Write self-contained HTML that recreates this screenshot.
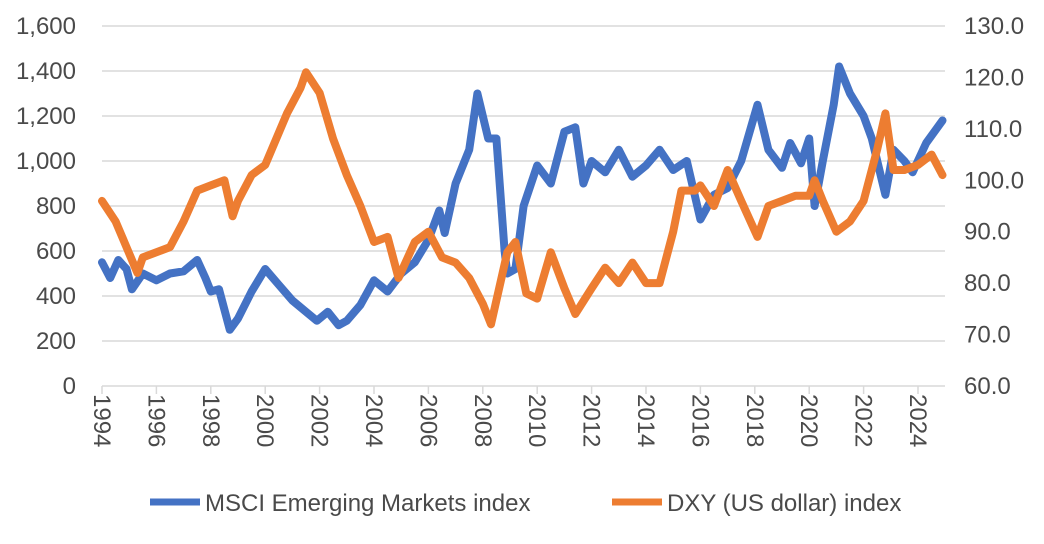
<!DOCTYPE html>
<html><head><meta charset="utf-8"><style>
body{margin:0;background:#fff;font-family:"Liberation Sans",sans-serif}
svg text{font-family:"Liberation Sans",sans-serif;fill:#4a4a4a}
</style></head><body>
<svg id="chart" width="1044" height="539" xmlns="http://www.w3.org/2000/svg"></svg>
<script>
const leftTicks=[0,200,400,600,800,1000,1200,1400,1600];
const rightTicks=[60,70,80,90,100,110,120,130];
const yearTicks=[1994,1996,1998,2000,2002,2004,2006,2008,2010,2012,2014,2016,2018,2020,2022,2024];
const msciX=[1994,1994.3,1994.6,1994.9,1995.1,1995.5,1996,1996.5,1997,1997.5,1997.8,1998,1998.3,1998.7,1999,1999.5,2000,2000.5,2001,2001.5,2001.9,2002.3,2002.7,2003,2003.5,2004,2004.5,2005,2005.5,2006,2006.4,2006.6,2007,2007.5,2007.8,2008.2,2008.5,2008.8,2008.9,2009.2,2009.5,2010,2010.5,2011,2011.4,2011.7,2012,2012.5,2013,2013.5,2014,2014.5,2015,2015.5,2016,2016.5,2017,2017.5,2018.1,2018.5,2019,2019.3,2019.7,2020,2020.2,2020.5,2020.9,2021.1,2021.5,2022,2022.3,2022.8,2023.1,2023.5,2023.8,2024.3,2024.9];
const msciY=[550,480,560,520,430,500,470,500,510,560,480,420,430,250,300,420,520,450,380,330,290,330,270,290,360,470,420,500,550,650,780,680,900,1050,1300,1100,1100,600,500,520,800,980,900,1130,1150,900,1000,950,1050,930,980,1050,960,1000,740,850,880,1000,1250,1050,970,1080,990,1100,800,1000,1250,1420,1300,1200,1100,850,1050,1000,950,1080,1180];
const dxyX=[1994,1994.5,1995.3,1995.5,1996,1996.5,1997,1997.5,1998,1998.5,1998.8,1999,1999.5,2000,2000.8,2001.3,2001.5,2002,2002.5,2003,2003.5,2004,2004.5,2004.9,2005.5,2006,2006.5,2007,2007.5,2008,2008.3,2008.9,2009.2,2009.6,2010,2010.5,2011,2011.4,2012,2012.5,2013,2013.5,2014,2014.5,2015,2015.3,2015.8,2016,2016.5,2017,2017.5,2018.1,2018.5,2019,2019.5,2020,2020.2,2020.5,2021,2021.5,2022,2022.5,2022.8,2023.1,2023.5,2024,2024.5,2024.9];
const dxyY=[96,92,82,85,86,87,92,98,99,100,93,96,101,103,113,118,121,117,108,101,95,88,89,81,88,90,85,84,81,76,72,86,88,78,77,86,79,74,79,83,80,84,80,80,90,98,98,99,95,102,96,89,95,96,97,97,100,96,90,92,96,106,113,102,102,103,105,101];

const NS="http://www.w3.org/2000/svg";
const svg=document.getElementById('chart');
const X0=102,PX=27.2,Y0=386,YT=26;
const x=yr=>X0+(yr-1994)*PX;
const yL=v=>Y0-(v/1600)*(Y0-YT);
const yR=v=>Y0-((v-60)/70)*(Y0-YT);
function mk(tag,attrs,parent){const e=document.createElementNS(NS,tag);for(const k in attrs)e.setAttribute(k,attrs[k]);(parent||svg).appendChild(e);return e;}
leftTicks.forEach(t=>{
  if(t>0){const g=mk('line',{x1:X0,x2:945,y1:yL(t),y2:yL(t),stroke:'#d9d9d9','stroke-width':1.5});
  
  }
  const tx=mk('text',{x:76,y:yL(t)+8,'text-anchor':'end','font-size':24});tx.textContent=t.toLocaleString('en-US');
  
  
});
rightTicks.forEach(t=>{
  const tx=mk('text',{x:964,y:yR(t)+8,'font-size':24});tx.textContent=t.toFixed(1);
  
  
});
const ax=mk('line',{x1:X0,x2:945,y1:Y0,y2:Y0,stroke:'#d9d9d9','stroke-width':1.5});


yearTicks.forEach(t=>{
  const tk=mk('line',{x1:x(t),x2:x(t),y1:Y0,y2:Y0+8,stroke:'#d9d9d9','stroke-width':1.5});
  
  
  const tx=mk('text',{x:0,y:0,'font-size':24,transform:`translate(${x(t)-8},394) rotate(90)`});tx.textContent=t;
  
  
});
function line(xs,ys,fy,color,name){
  const d=xs.map((v,i)=>(i?'L':'M')+x(v).toFixed(1)+','+fy(ys[i]).toFixed(1)).join('');
  const p=mk('path',{d,fill:'none',stroke:color,'stroke-width':8,'stroke-linejoin':'round','stroke-linecap':'round'});
  
  
}
line(msciX,msciY,yL,'#4472c4','msci-line');
line(dxyX,dxyY,yR,'#ed7d31','dxy-line');
</script>
<svg style="position:absolute;left:0;top:0" width="1044" height="539">
<g>
<line x1="150" x2="200" y1="502" y2="502" stroke="#4472c4" stroke-width="7"/>
<text x="205" y="511" font-size="24" fill="#404040" font-family="Liberation Sans, sans-serif">MSCI Emerging Markets index</text>
<line x1="612" x2="662" y1="502" y2="502" stroke="#ed7d31" stroke-width="7"/>
<text x="667" y="511" font-size="24" fill="#404040" font-family="Liberation Sans, sans-serif">DXY (US dollar) index</text>
</g></svg>
</body></html>
